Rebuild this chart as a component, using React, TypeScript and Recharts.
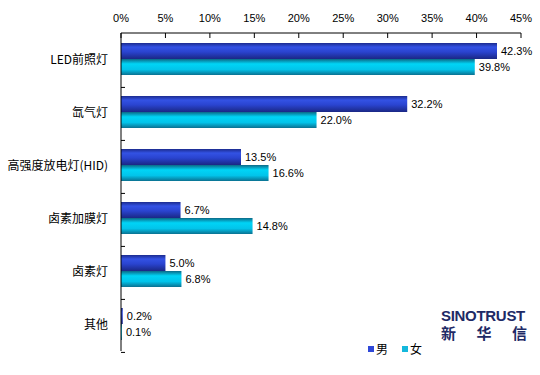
import React from "react";
import { BarChart, Bar, XAxis, YAxis, LabelList, Legend } from "recharts";

document.body.style.margin = "0";

const categories = ["LED前照灯", "氙气灯", "高强度放电灯(HID)", "卤素加膜灯", "卤素灯", "其他"];
const maleValues = [42.3, 32.2, 13.5, 6.7, 5.0, 0.2];
const femaleValues = [39.8, 22.0, 16.6, 14.8, 6.8, 0.1];
const xTicks = [0, 5, 10, 15, 20, 25, 30, 35, 40, 45];

const data = categories.map((name, i) => ({
  name,
  male: maleValues[i],
  female: femaleValues[i],
}));

const W = 540;
const H = 375;
const TOP = 33; // x axis height (axis sits on top)
const BOTTOM = 7;
const LEFT = 121;
const bandHalf = (H - TOP - BOTTOM) / categories.length / 2;

function TopTick({ x, payload }: any) {
  return (
    <g>
      <line x1={x} y1={TOP} x2={x} y2={TOP + 5} stroke="#000" />
      <text x={x} y={TOP - 11} textAnchor="middle" fontSize={11} fill="#000" fontFamily="Liberation Sans, Arial">
        {payload.value}%
      </text>
    </g>
  );
}

function LeftTick({ y, payload }: any) {
  return (
    <g>
      <line x1={LEFT} y1={y + bandHalf} x2={LEFT + 4} y2={y + bandHalf} stroke="#000" />
      <text x={LEFT - 13} y={y} dy={4} textAnchor="end" fontSize={12} fill="#000" fontFamily="Noto Sans CJK SC">
        {payload.value}
      </text>
    </g>
  );
}

function LegendContent() {
  const items = [
    { label: "男", color: "#2f48d8" },
    { label: "女", color: "#14b8dc" },
  ];
  return (
    <div style={{ display: "flex", gap: 14, fontFamily: "Noto Sans CJK SC", fontSize: 12 }}>
      {items.map((it) => (
        <div key={it.label} style={{ display: "flex", alignItems: "center", gap: 2 }}>
          <span style={{ width: 6, height: 6, background: it.color, display: "inline-block" }} />
          <span>{it.label}</span>
        </div>
      ))}
    </div>
  );
}

export default function App() {
  return (
    <div style={{ position: "relative", width: W, height: H, background: "#fff" }}>
      <BarChart
        width={W}
        height={H}
        data={data}
        layout="vertical"
        margin={{ top: 0, right: 19, bottom: BOTTOM, left: 0 }}
        barCategoryGap="19%"
        barGap={0}
      >
        <defs>
          <linearGradient id="gMale" x1="0" y1="0" x2="0" y2="1">
            <stop offset="0%" stopColor="#1c2c90" />
            <stop offset="25%" stopColor="#3352e4" />
            <stop offset="55%" stopColor="#2a44d0" />
            <stop offset="100%" stopColor="#1a2784" />
          </linearGradient>
          <linearGradient id="gFemale" x1="0" y1="0" x2="0" y2="1">
            <stop offset="0%" stopColor="#0c6a88" />
            <stop offset="30%" stopColor="#00d4f6" />
            <stop offset="65%" stopColor="#02c4ea" />
            <stop offset="100%" stopColor="#0a7090" />
          </linearGradient>
        </defs>
        <XAxis
          type="number"
          orientation="top"
          domain={[0, 45]}
          ticks={xTicks}
          height={TOP}
          tickLine={false}
          axisLine={{ stroke: "#000" }}
          tick={<TopTick />}
          interval={0}
        />
        <YAxis
          type="category"
          dataKey="name"
          width={LEFT}
          tickLine={false}
          axisLine={{ stroke: "#000" }}
          tick={<LeftTick />}
          interval={0}
        />
        <Legend
          content={<LegendContent />}
          wrapperStyle={{ position: "absolute", left: 368, top: 340, width: "auto" }}
        />
        <Bar dataKey="male" name="男" fill="url(#gMale)" isAnimationActive={false}>
          <LabelList
            dataKey="male"
            position="right"
            offset={4}
            formatter={(v: any) => `${Number(v).toFixed(1)}%`}
            style={{ fontSize: 11, fill: "#000", fontFamily: "Liberation Sans, Arial" }}
          />
        </Bar>
        <Bar dataKey="female" name="女" fill="url(#gFemale)" isAnimationActive={false}>
          <LabelList
            dataKey="female"
            position="right"
            offset={4}
            formatter={(v: any) => `${Number(v).toFixed(1)}%`}
            style={{ fontSize: 11, fill: "#000", fontFamily: "Liberation Sans, Arial" }}
          />
        </Bar>
      </BarChart>
      <div
        style={{
          position: "absolute",
          left: 441,
          top: 307,
          width: 86,
          color: "#1e2a66",
          fontFamily: "Liberation Sans, Arial",
          fontWeight: "bold",
        }}
      >
        <div style={{ fontSize: 15, lineHeight: "17px", letterSpacing: -0.3 }}>SINOTRUST</div>
        <div
          style={{
            fontFamily: "Noto Sans CJK SC",
            fontSize: 15,
            lineHeight: "17px",
            display: "flex",
            justifyContent: "space-between",
          }}
        >
          <span>新</span>
          <span>华</span>
          <span>信</span>
        </div>
      </div>
    </div>
  );
}
